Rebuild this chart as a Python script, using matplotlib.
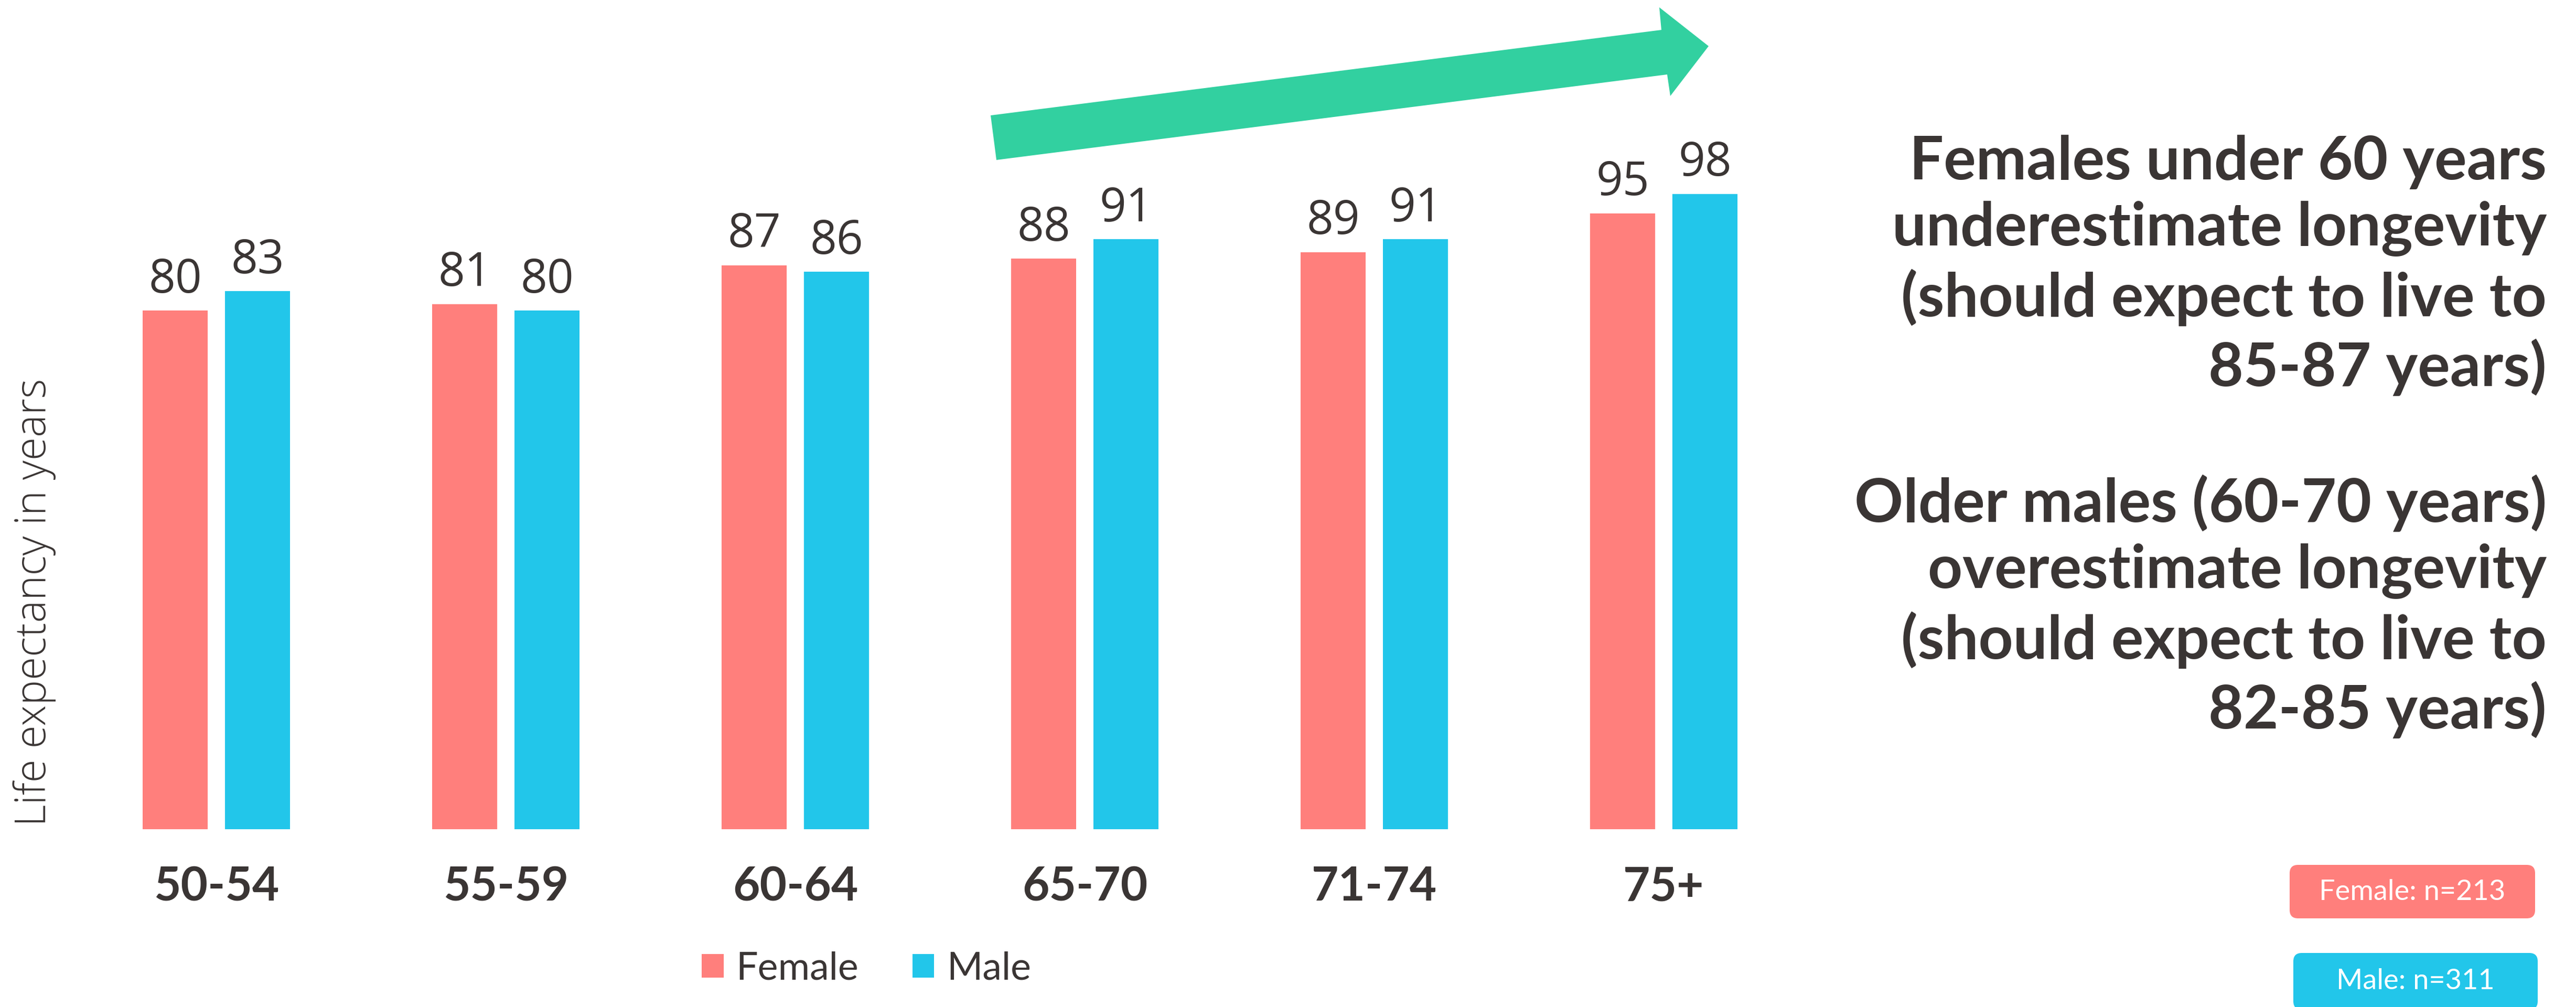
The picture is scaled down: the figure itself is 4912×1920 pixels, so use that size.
import matplotlib
matplotlib.use("Agg")
import matplotlib.pyplot as plt
import numpy as np
from matplotlib.patches import Polygon, FancyBboxPatch

# Data
age_groups = ["50-54", "55-59", "60-64", "65-70", "71-74", "75+"]
female = [80, 81, 87, 88, 89, 95]
male = [83, 80, 86, 91, 91, 98]
series_names = ["Female", "Male"]
sample_labels = ["Female: n=213", "Male: n=311"]
y_label = "Life expectancy in years"
note_text = ("Females under 60 years\nunderestimate longevity\n(should expect to live to\n85-87 years)\n\n"
             "Older males (60-70 years)\noverestimate longevity\n(should expect to live to\n82-85 years)")

# Style
W, H, DPI = 4912, 1920, 100
C_FEMALE = "#FF7F7C"
C_MALE = "#22C6EA"
C_ARROW = "#32D0A0"
C_TEXT = "#3A3534"
F_NUM = "Open Sans"
F_LBL = "Lato"

fig = plt.figure(figsize=(W / DPI, H / DPI), dpi=DPI)
fig.patch.set_facecolor("white")

# Bar axes laid out in pixel terms
group_px = 552.0
first_center_px = 412.5
base_px = 1581.0
px_per_unit = 12.36
ax_right_px = 3600.0
ax = fig.add_axes([0, (H - base_px) / H, ax_right_px / W, base_px / H])
ax.set_xlim(-first_center_px / group_px, (ax_right_px - first_center_px) / group_px)
ax.set_ylim(0, base_px / px_per_unit)

x = np.arange(len(age_groups))
bw = 124 / group_px
off = 78.5 / group_px
b1 = ax.bar(x - off, female, bw, color=C_FEMALE, label=series_names[0])
b2 = ax.bar(x + off, male, bw, color=C_MALE, label=series_names[1])
for bars in (b1, b2):
    ax.bar_label(bars, padding=9, fontsize=64, family=F_NUM, color=C_TEXT)

ax.set_xticks(x, age_groups)
ax.tick_params(axis="x", length=0, pad=50, labelsize=64, labelcolor=C_TEXT)
for t in ax.get_xticklabels():
    t.set_family(F_LBL)
    t.set_fontweight("bold")
ax.set_yticks([])
for s in ax.spines.values():
    s.set_visible(False)
ax.patch.set_alpha(0)

# Y axis label
fig.text(66 / W, 1 - 1148 / H, y_label, rotation=90, ha="center", va="center",
         fontsize=58, family=F_NUM, fontweight="light", color=C_TEXT)

# Legend
fig.legend(handles=[b1, b2], labels=series_names, loc="center",
           bbox_to_anchor=(1652 / W, 1 - 1847 / H), ncol=2, frameon=False,
           handlelength=0.57, handleheight=0.55, handletextpad=0.32,
           columnspacing=1.39, borderpad=0, prop={"family": F_LBL, "size": 53},
           labelcolor=C_TEXT)

# Overlay in pixel units for the annotations
ov = fig.add_axes([0, 0, 1, 1])
ov.set_xlim(0, W)
ov.set_ylim(H, 0)
ov.axis("off")
ov.patch.set_alpha(0)

arrow = Polygon([(1889, 220), (3168, 57), (3164, 14), (3258, 88),
                 (3185, 183), (3179, 142), (1900, 305)],
                closed=True, facecolor=C_ARROW, edgecolor="none")
ov.add_patch(arrow)

ov.text(4856, 1389, note_text, ha="right", va="baseline", fontsize=83,
        family=F_LBL, fontweight="bold", color=C_TEXT, linespacing=1.26,
        multialignment="right")

for (x0, y0, x1, y1), lab, col in zip([(4366, 1649, 4834, 1751), (4373, 1817, 4839, 1925)],
                                      sample_labels, [C_FEMALE, C_MALE]):
    ov.add_patch(FancyBboxPatch((x0, y0), x1 - x0, y1 - y0,
                                boxstyle="round,pad=0,rounding_size=16",
                                facecolor=col, edgecolor="none"))
    ov.text((x0 + x1) / 2, (y0 + y1) / 2 if y1 < H else 1871, lab, ha="center", va="center",
            fontsize=39, family=F_LBL, color="white")

fig.savefig("out.png", dpi=DPI, facecolor="white")
